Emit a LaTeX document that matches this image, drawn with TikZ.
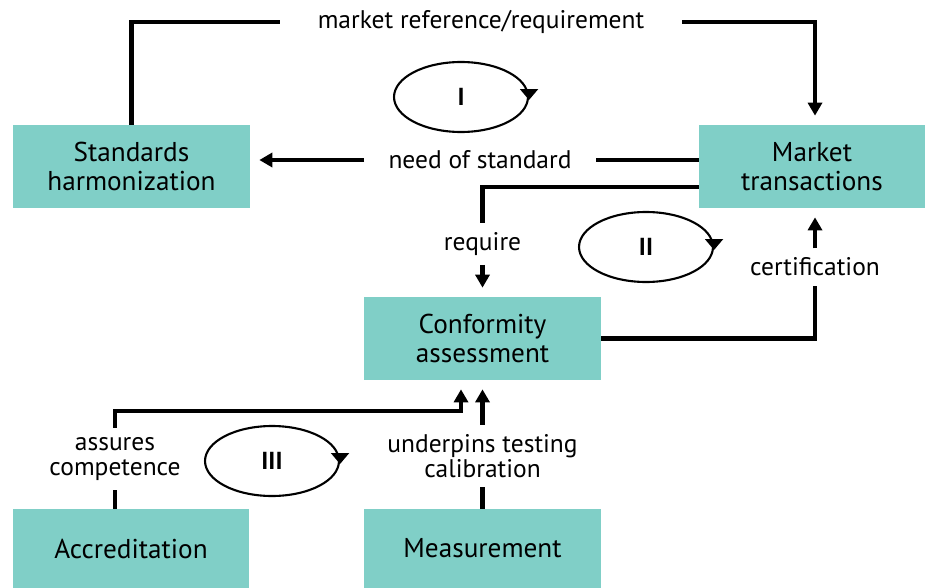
\documentclass[tikz,border=0pt]{standalone}
\usepackage{fontspec}
\setmainfont{PT Sans}
\usetikzlibrary{arrows.meta,shapes.geometric}
\definecolor{boxteal}{RGB}{128,207,199}
\tikzset{
  block/.style={fill=boxteal, minimum width=4.74cm, minimum height=1.66cm, align=center, inner sep=0pt, font=\fontsize{15.5}{16.5}\selectfont},
  lbl/.style={fill=white, align=center, inner sep=0pt, font=\fontsize{14.5}{14.6}\selectfont},
  conn/.style={line width=2.3pt},
  arr/.style={conn, -{Triangle[width=0.28cm,length=0.26cm]}, shorten >=0.18cm},
  loopell/.style={ellipse, draw, line width=1.2pt, inner sep=0pt, minimum width=2.68cm, minimum height=1.4cm, font=\bfseries\fontsize{14}{16}\selectfont},
  looptip/.style={-{Triangle[width=0.36cm,length=0.22cm]}, line width=1.2pt}
}
\begin{document}
\begin{tikzpicture}[x=0.02cm,y=-0.02cm]
\useasboundingbox (0,0) rectangle (926,588);
% boxes
\node[block] (std) at (131.5,166.5) {Standards\\harmonization};
\node[block, minimum width=4.52cm] (mkt) at (812,166.5) {Market\\transactions};
\node[block] (conf) at (482.5,338.5) {Conformity\\assessment};
\node[block, minimum height=1.58cm] (acc) at (131,548.5) {Accreditation};
\node[block, minimum height=1.58cm] (meas) at (482.5,548.5) {Measurement};
% labels on the links
\node[lbl, inner xsep=0.75cm] (mref) at (481,22) {market reference/requirement};
\node[lbl, inner xsep=0.48cm] (need) at (480,160) {need of standard};
\node[lbl, inner ysep=0.18cm] (req) at (482.5,244) {require};
\node[lbl, inner ysep=0.18cm] (cert) at (815,267) {certification};
\node[lbl, inner ysep=0.18cm] (assure) at (115,459) {assures\\competence};
\node[lbl, inner ysep=0.18cm] (under) at (482.5,456) {underpins testing\\calibration};
\coordinate (abend) at (461,411);
% links
\draw[conn] (std.north) |- (mref.west);
\draw[arr] (mref.east) -| ([xshift=0.06cm]mkt.north);
\draw[conn] (mkt.west |- need) -- (need.east);
\draw[arr] (need.west) -- (std.east |- need);
\draw[conn] ([yshift=-0.41cm]mkt.west) -| (req.north);
\draw[arr] (req.south) -- (req.south |- conf.north);
\draw[conn] (conf.east) -| (cert.south);
\draw[arr] (cert.north) -- (cert.north |- mkt.south);
\draw[conn] (assure.south) -- (assure.south |- acc.north);
\draw[arr] (assure.north) |- (abend) -- (abend |- conf.south);
\draw[conn] (meas.north) -- (under.south);
\draw[arr] (under.north) -- (under.north |- conf.south);
% loops
\node[loopell] (cI) at (461,97) {I};
\node[loopell] (cII) at (646,247) {II};
\node[loopell] (cIII) at (272,461) {III};
\foreach \c in {cI,cII,cIII}
  \draw[looptip] ([yshift=0.12cm]\c.east) -- ([yshift=-0.06cm]\c.east);
\end{tikzpicture}
\end{document}
